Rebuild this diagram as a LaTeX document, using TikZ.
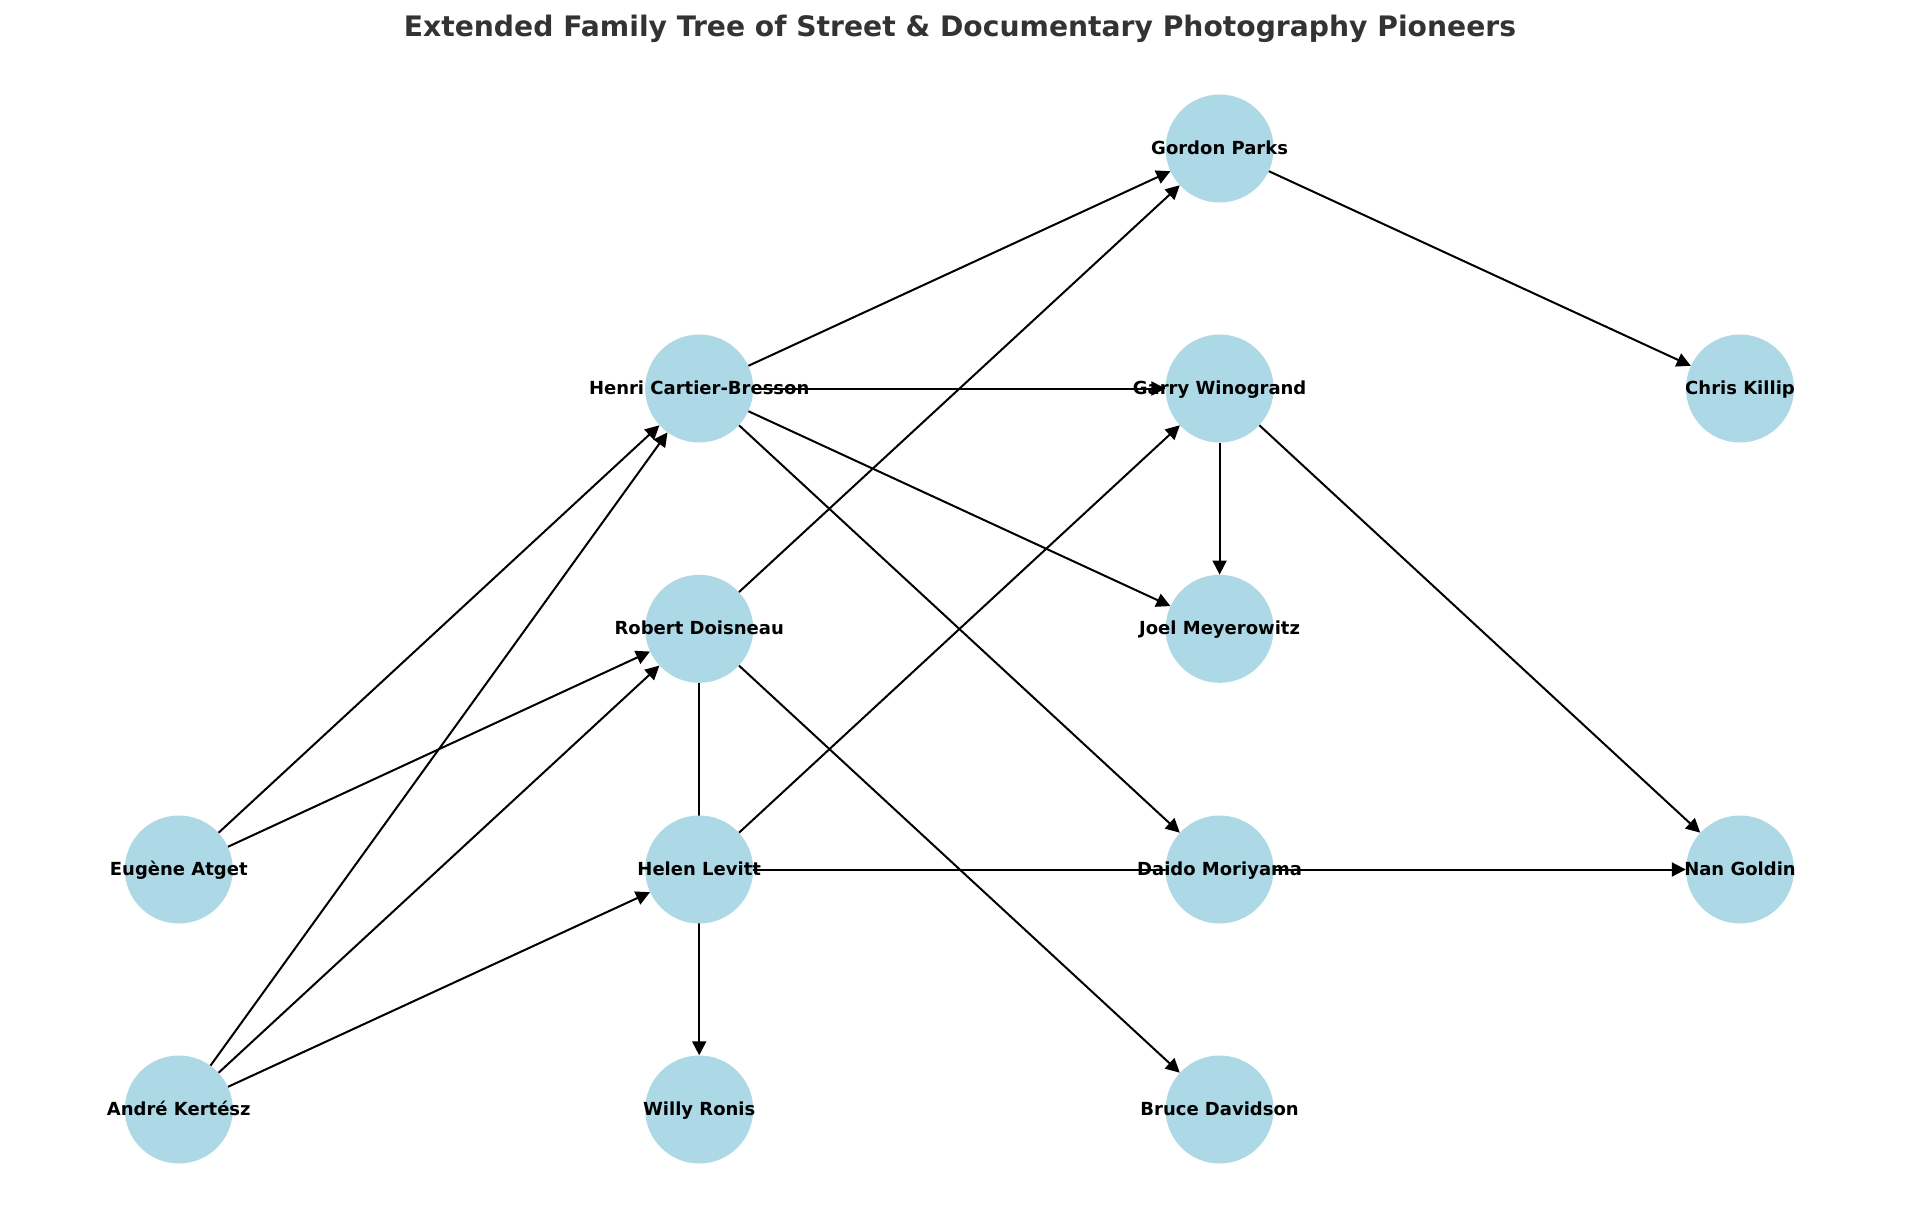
\documentclass[tikz,border=0pt]{standalone}
\usepackage{fontspec}
\setmainfont{DejaVu Sans}
\usetikzlibrary{arrows.meta}
\definecolor{nodeblue}{HTML}{ADD8E6}
\definecolor{titlegray}{HTML}{333333}
\tikzset{
  person/.style={circle, fill=nodeblue, minimum size=108pt, inner sep=0pt},
  plabel/.style={font=\fontsize{18}{20}\selectfont\bfseries, inner sep=0pt, text=black,
    text height=13.1pt, text depth=3.9pt, yshift=-1.5pt},
  link/.style={line width=2pt, -{Triangle[length=14pt,width=14pt]}},
}
\begin{document}
\begin{tikzpicture}[x=1pt,y=-1pt]
\useasboundingbox[fill=white] (0,0) rectangle (1920,1226);
\node[font=\fontsize{28.2}{32}\selectfont\bfseries, text=titlegray] (title) at (960,29) {Extended Family Tree of Street \& Documentary Photography Pioneers};
% nodes
\node[person] (parks) at (1219.6,148.5) {};
\node[person] (hcb) at (699.2,388.5) {};
\node[person] (win) at (1219.6,388.5) {};
\node[person] (killip) at (1740,388.5) {};
\node[person] (dois) at (699.2,628.8) {};
\node[person] (joel) at (1219.6,628.8) {};
\node[person] (atget) at (178.8,869.5) {};
\node[person] (levitt) at (699.2,869.5) {};
\node[person] (mori) at (1219.6,869.5) {};
\node[person] (goldin) at (1740,869.5) {};
\node[person] (kert) at (178.8,1109.5) {};
\node[person] (ronis) at (699.2,1109.5) {};
\node[person] (bruce) at (1219.6,1109.5) {};
% labels
\foreach \n/\t in {parks/Gordon Parks, hcb/Henri Cartier-Bresson, win/Garry Winogrand,
  killip/Chris Killip, dois/Robert Doisneau, joel/Joel Meyerowitz, atget/Eugène Atget,
  levitt/Helen Levitt, mori/Daido Moriyama, goldin/Nan Goldin, kert/André Kertész,
  ronis/Willy Ronis, bruce/Bruce Davidson}
  \node[plabel] (\n-label) at (\n) {\t};
% edges, hidden inside the circles
\begin{scope}[even odd rule]
\clip (-10,-10) rectangle (1930,1236)
  (parks) circle (54) (hcb) circle (54) (win) circle (54)
  (killip) circle (54) (dois) circle (54) (joel) circle (54)
  (atget) circle (54) (levitt) circle (54) (mori) circle (54)
  (goldin) circle (54) (kert) circle (54) (ronis) circle (54)
  (bruce) circle (54);
\draw[link] (atget) -- (hcb);
\draw[link] (atget) -- (dois);
\draw[link] (kert) -- (hcb);
\draw[link] (kert) -- (dois);
\draw[link] (kert) -- (levitt);
\draw[link] (hcb) -- (parks);
\draw[link] (hcb) -- (win);
\draw[link] (hcb) -- (joel);
\draw[link] (hcb) -- (mori);
\draw[link] (dois) -- (parks);
\draw[link] (dois) -- (ronis);
\draw[link] (dois) -- (bruce);
\draw[link] (levitt) -- (win);
\draw[link] (levitt) -- (goldin);
\draw[link] (win) -- (joel);
\draw[link] (win) -- (goldin);
\draw[link] (parks) -- (killip);
\end{scope}
\end{tikzpicture}
\end{document}
